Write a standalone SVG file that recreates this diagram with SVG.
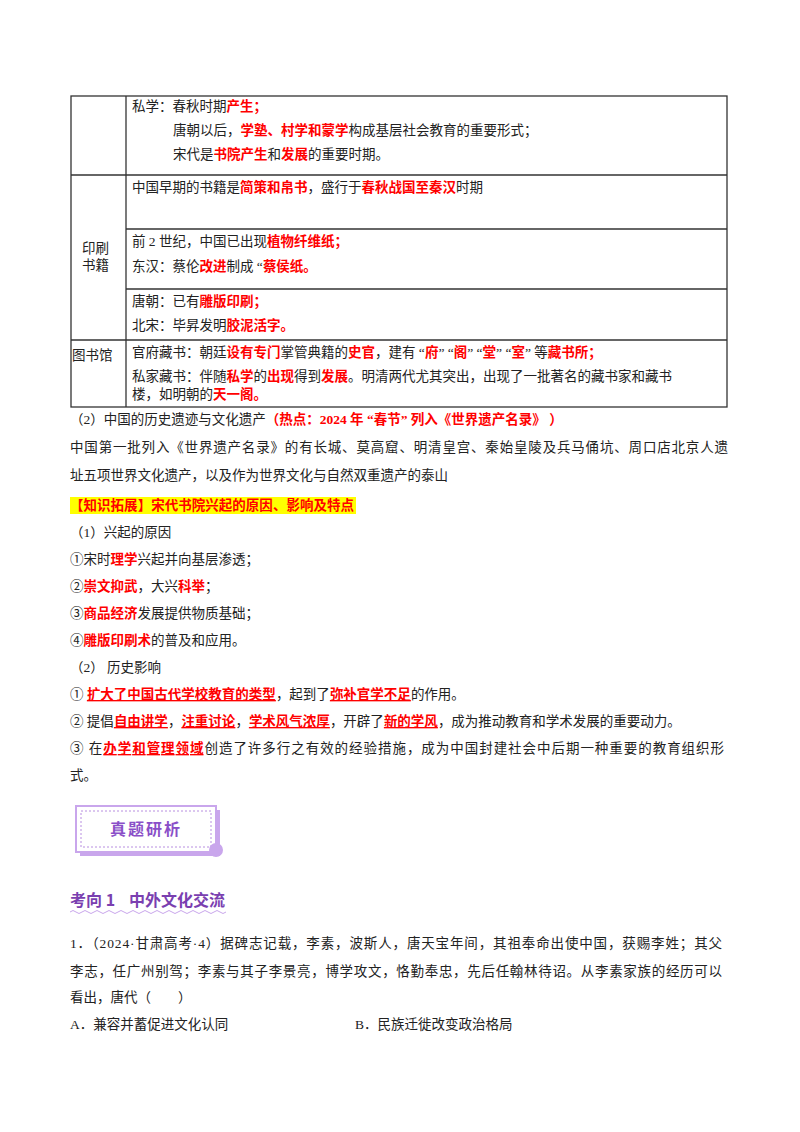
<svg xmlns="http://www.w3.org/2000/svg" width="800" height="1132" viewBox="0 0 800 1132">
<style>
text{font-family:"Liberation Serif","Noto Sans CJK SC",serif;font-size:13.5px;fill:#222}
.r{fill:#f00;font-weight:bold}
.ln{stroke:#333;stroke-width:1.3;fill:none}
.u{text-decoration:underline}
.b{font-size:14px}
</style>
<rect width="800" height="1132" fill="#fff"/>
<g id="table">
<rect class="ln" x="71" y="96" width="656" height="311"/>
<line class="ln" x1="126" y1="96" x2="126" y2="407"/>
<line class="ln" x1="71" y1="175" x2="727" y2="175"/>
<line class="ln" x1="126" y1="229" x2="727" y2="229"/>
<line class="ln" x1="126" y1="289" x2="727" y2="289"/>
<line class="ln" x1="71" y1="340" x2="727" y2="340"/>
<text x="132" y="111">私学：春秋时期<tspan class="r">产生；</tspan></text>
<text x="173" y="135">唐朝以后，<tspan class="r">学塾、村学和蒙学</tspan>构成基层社会教育的重要形式；</text>
<text x="173" y="159">宋代是<tspan class="r">书院产生</tspan>和<tspan class="r">发展</tspan>的重要时期。</text>
<text x="132" y="192">中国早期的书籍是<tspan class="r">简策和帛书</tspan>，盛行于<tspan class="r">春秋战国至秦汉</tspan>时期</text>
<text x="132" y="246">前 2 世纪，中国已出现<tspan class="r">植物纤维纸；</tspan></text>
<text x="132" y="271">东汉：蔡伦<tspan class="r">改进</tspan>制成 “<tspan class="r">蔡侯纸。</tspan></text>
<text x="132" y="306">唐朝：已有<tspan class="r">雕版印刷；</tspan></text>
<text x="132" y="330">北宋：毕昇发明<tspan class="r">胶泥活字。</tspan></text>
<text x="132" y="357">官府藏书：朝廷<tspan class="r">设有专门</tspan>掌管典籍的<tspan class="r">史官</tspan>，建有 “<tspan class="r">府</tspan>” “<tspan class="r">阁</tspan>” “<tspan class="r">堂</tspan>” “<tspan class="r">室</tspan>” 等<tspan class="r">藏书所；</tspan></text>
<text x="132" y="381">私家藏书：伴随<tspan class="r">私学</tspan>的<tspan class="r">出现</tspan>得到<tspan class="r">发展</tspan>。明清两代尤其突出，出现了一批著名的藏书家和藏书</text>
<text x="132" y="399">楼，如明朝的<tspan class="r">天一阁。</tspan></text>
<text x="82" y="253">印刷</text>
<text x="82" y="270">书籍</text>
<text x="72" y="360">图书馆</text>
</g>
<g id="body" class="b">
<text x="70" y="424">（2）中国的历史遗迹与文化遗产<tspan class="r">（热点：2024 年 “春节” 列入《世界遗产名录》 ）</tspan></text>
<text x="70" y="452" textLength="658">中国第一批列入《世界遗产名录》的有长城、莫高窟、明清皇宫、秦始皇陵及兵马俑坑、周口店北京人遗</text>
<text x="70" y="480">址五项世界文化遗产，以及作为世界文化与自然双重遗产的泰山</text>
<rect x="70" y="497" width="286" height="17" fill="#ff0"/>
<text x="70" y="510" class="r" textLength="284">【知识拓展】宋代书院兴起的原因、影响及特点</text>
<text x="70" y="537">（1）兴起的原因</text>
<text x="70" y="564">①宋时<tspan class="r">理学</tspan>兴起并向基层渗透；</text>
<text x="70" y="591">②<tspan class="r">崇文抑武</tspan>，大兴<tspan class="r">科举</tspan>；</text>
<text x="70" y="618">③<tspan class="r">商品经济</tspan>发展提供物质基础；</text>
<text x="70" y="645">④<tspan class="r">雕版印刷术</tspan>的普及和应用。</text>
<text x="70" y="672">（2） 历史影响</text>
<text x="70" y="699">① <tspan class="r u">扩大了中国古代学校教育的类型</tspan>，起到了<tspan class="r u">弥补官学不足</tspan>的作用。</text>
<text x="70" y="726">② 提倡<tspan class="r u">自由讲学</tspan>，<tspan class="r u">注重讨论</tspan>，<tspan class="r u">学术风气浓厚</tspan>，开辟了<tspan class="r u">新的学风</tspan>，成为推动教育和学术发展的重要动力。</text>
<text x="70" y="753" textLength="654">③ 在<tspan class="r u">办学和管理领域</tspan>创造了许多行之有效的经验措施，成为中国封建社会中后期一种重要的教育组织形</text>
<text x="70" y="780">式。</text>
</g>
<g id="banner">
<rect x="80" y="810" width="140" height="46" fill="#c9a6ec"/>
<rect x="76" y="806" width="140" height="46" fill="#fff" stroke="#c9a6ec" stroke-width="2"/>
<rect x="81" y="811" width="130" height="36" fill="none" stroke="#b88ee0" stroke-dasharray="2 2"/>
<circle cx="216" cy="850" r="7" fill="#c9a6ec"/>
<text x="146" y="835" text-anchor="middle" style="font-family:'Noto Sans CJK SC',sans-serif;font-size:16px;font-weight:bold;fill:#8a4fc8;letter-spacing:2px">真题研析</text>
</g>
<g id="section">
<text x="70" y="906" style="font-family:'Noto Sans CJK SC',sans-serif;font-size:16px;font-weight:bold;fill:#7a3fb0">考向 1<tspan dx="14">中外文化交流</tspan></text>
<path d="M70 912 q3 -3 6 0 t6 0 t6 0 t6 0 t6 0 t6 0 t6 0 t6 0 t6 0 t6 0 t6 0 t6 0 t6 0 t6 0 t6 0 t6 0 t6 0 t6 0 t6 0 t6 0 t6 0 t6 0 t6 0 t6 0 t6 0 t6 0" fill="none" stroke="#c9a6ec" stroke-width="1"/>
</g>
<g id="question" class="b">
<text x="70" y="948" textLength="652">1．（2024·甘肃高考·4）据碑志记载，李素，波斯人，唐天宝年间，其祖奉命出使中国，获赐李姓；其父</text>
<text x="70" y="976" textLength="652">李志，任广州别驾；李素与其子李景亮，博学攻文，恪勤奉忠，先后任翰林待诏。从李素家族的经历可以</text>
<text x="70" y="1002">看出，唐代（　　）</text>
<text x="70" y="1029">A．兼容并蓄促进文化认同</text>
<text x="355" y="1029">B．民族迁徙改变政治格局</text>
</g>
</svg>
